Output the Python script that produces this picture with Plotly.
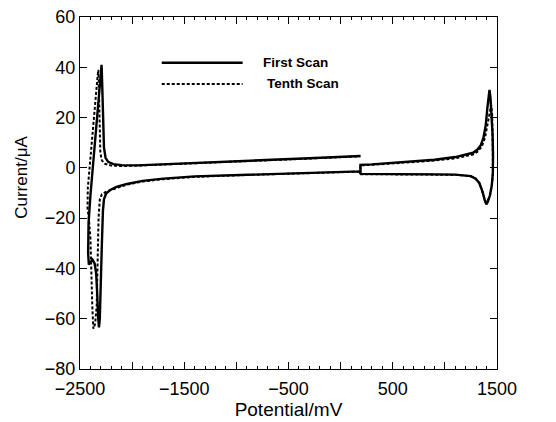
import plotly.graph_objects as go

# First scan (solid)
first_E = [190, 190, 300, 500, 700, 900, 1100, 1200, 1270, 1310, 1345, 1370, 1392, 1408, 1420, 1428,
           1437, 1448, 1458, 1462, 1460, 1450, 1432, 1412, 1398, 1383, 1362, 1330, 1295, 1250, 1180,
           1100, 900, 600, 400, 195,
           180, 0, -200, -500, -800, -1100, -1400, -1700, -1900, -2050, -2150, -2210, -2250, -2270,
           -2280, -2290, -2300, -2310, -2318, -2325, -2335, -2345, -2360, -2380, -2400, -2415, -2422,
           -2418, -2400, -2370, -2340, -2315, -2300, -2293, -2287, -2280, -2270, -2255, -2230, -2180,
           -2100, -1950, -1750, -1500, -1200, -900, -600, -300, 0, 190]
first_I = [-2.4, 1.2, 1.4, 1.9, 2.5, 3.2, 4.3, 5.2, 6.0, 7.2, 9.0, 12, 17, 24, 29, 31,
           28, 21, 13, 5, -2, -7, -11, -13.5, -14.5, -13, -9.5, -6, -4.3, -3.3, -2.9,
           -2.7, -2.6, -2.6, -2.5, -2.4,
           -1.4, -1.6, -1.8, -2.2, -2.6, -3.0, -3.4, -4.3, -5.2, -6.4, -7.6, -8.8, -10.2, -12.5,
           -17, -30, -48, -60, -63.5, -60, -50, -42, -38, -36.5, -37.5, -38.5, -34,
           -22, -11, 3, 18, 31, 39, 41, 33, 18, 8, 4, 2.4, 1.5,
           1.1, 1.0, 1.3, 1.8, 2.3, 2.8, 3.3, 3.8, 4.3, 4.7]

# Tenth scan (dashed)
tenth_E = [190, 190, 300, 500, 700, 900, 1100, 1200, 1270, 1310, 1355, 1385, 1412, 1430, 1444,
           1454, 1461, 1462, 1450, 1432, 1412, 1398, 1383, 1362, 1330, 1295, 1250, 1180,
           1100, 900, 600, 400, 195,
           180, 0, -200, -500, -800, -1100, -1400, -1700, -1900, -2050, -2150, -2200, -2250, -2290,
           -2310, -2322, -2330, -2340, -2355, -2372, -2382, -2390, -2400, -2415, -2428,
           -2425, -2400, -2370, -2345, -2330, -2324, -2318, -2312, -2305, -2290, -2260, -2200,
           -2100, -1950, -1750, -1500, -1200, -900, -600, -300, 0, 190]
tenth_I = [-2.5, 1.0, 1.2, 1.7, 2.3, 2.9, 3.8, 4.6, 5.3, 6.3, 8.5, 12, 18, 23, 25,
           21, 10, -2, -7, -11, -13, -13.8, -12.5, -9.5, -6, -4.3, -3.4, -3.0,
           -2.8, -2.7, -2.7, -2.6, -2.5,
           -1.5, -1.7, -1.9, -2.3, -2.7, -3.1, -3.6, -4.5, -5.4, -6.7, -8.0, -8.8, -9.5, -10.5,
           -12.5, -20, -38, -55, -62, -64, -55, -40, -28, -20, -16,
           -8, 5, 18, 30, 37, 39, 30, 15, 6, 3, 1.6, 0.9,
           0.7, 0.9, 1.2, 1.7, 2.2, 2.7, 3.2, 3.7, 4.2, 4.6]

x_tickvals = [-2500, -2000, -1500, -1000, -500, 0, 500, 1000, 1500]
x_ticktext = ["\u22122500", "", "\u22121500", "", "\u2212500", "", "500", "", "1500"]
y_tickvals = [-80, -60, -40, -20, 0, 20, 40, 60]
y_ticktext = ["\u221280", "\u221260", "\u221240", "\u221220", "0", "20", "40", "60"]

series_names = ["First Scan", "Tenth Scan"]
x_title = "Potential/mV"
y_title = "Current/\u03bcA"

FONT = "Liberation Sans, Arial, sans-serif"

fig = go.Figure()
fig.add_trace(go.Scatter(x=first_E, y=first_I, mode="lines", name=series_names[0],
                         line=dict(color="black", width=2.4), showlegend=False))
fig.add_trace(go.Scatter(x=tenth_E, y=tenth_I, mode="lines", name=series_names[1],
                         line=dict(color="black", width=2, dash="3px,2px"), showlegend=False))

# legend drawn as decoration
legend_rows = [(0.87, "solid", 2.4), (0.81, "3px,2px", 2)]
for (yy, dash, w), name, dx in zip(legend_rows, series_names, [0.0, 0.008]):
    fig.add_shape(type="line", xref="paper", yref="paper", x0=0.196, x1=0.39, y0=yy, y1=yy,
                  line=dict(color="black", width=w, dash=dash))
    fig.add_annotation(xref="paper", yref="paper", x=0.435 + dx, y=yy, text="<b>%s</b>" % name,
                       showarrow=False, xanchor="left", yanchor="middle",
                       font=dict(family=FONT, size=13.5, color="black"))

# y-axis title (placed slightly above centre, as in the reference)
fig.add_annotation(xref="paper", yref="paper", x=-0.14, y=0.545, text=y_title, textangle=-90,
                   showarrow=False, xanchor="center", yanchor="middle",
                   font=dict(family=FONT, size=17, color="black"))

axis_common = dict(showline=True, linecolor="black", linewidth=1, mirror="ticks",
                   ticks="inside", tickcolor="black", showgrid=False, zeroline=False,
                   tickfont=dict(family=FONT, size=18, color="black"))

fig.update_xaxes(range=[-2500, 1500], tickvals=x_tickvals, ticktext=x_ticktext, ticklen=7,
                 ticklabelstandoff=3,
                 minor=dict(dtick=100, tick0=-2500, ticks="inside", ticklen=3, tickcolor="black"),
                 title=dict(text=x_title, font=dict(family=FONT, size=19, color="black"), standoff=2),
                 **axis_common)
fig.update_yaxes(range=[-80, 60], tickvals=y_tickvals, ticktext=y_ticktext, ticklen=7,
                 **axis_common)

fig.update_layout(width=556, height=422, margin=dict(l=80, r=59, t=17, b=53, autoexpand=False),
                  plot_bgcolor="white", paper_bgcolor="white", showlegend=False)

fig.write_html("out.html")
